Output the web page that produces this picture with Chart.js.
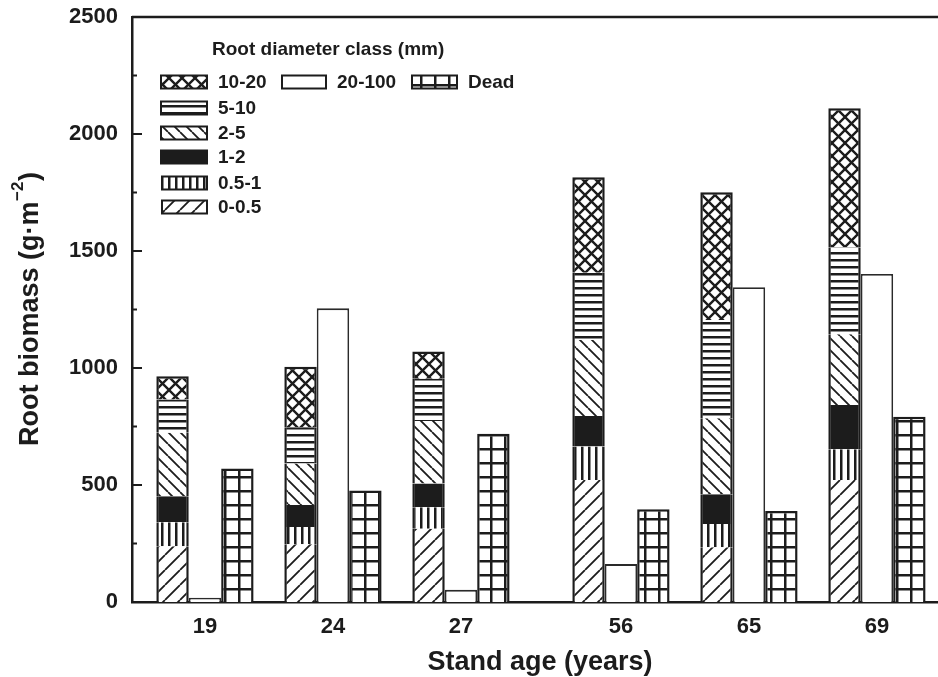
<!DOCTYPE html>
<html>
<head>
<meta charset="utf-8">
<title>Root biomass by stand age</title>
<script src="https://cdn.jsdelivr.net/npm/chart.js@4.4.1/dist/chart.umd.min.js"></script>
<style>
  html, body { margin: 0; padding: 0; background: #fff; }
  canvas { display: block; }
</style>
</head>
<body>
<canvas id="rootChart" width="938" height="677"></canvas>
<script>
// stand ages
var ages = ['19', '24', '27', '56', '65', '69'];
// live root biomass by diameter class (g m-2), stacked bottom to top
var d0_05 = [238, 247, 313, 521, 234, 521];
var d05_1 = [103, 73, 92, 143, 99, 132];
var d1_2 = [111, 94, 101, 131, 128, 189];
var d2_5 = [271, 178, 267, 325, 324, 302];
var d5_10 = [142, 155, 181, 287, 420, 372];
var d10_20 = [100, 258, 116, 408, 546, 594];
// separate bars
var d20_100 = [18, 1255, 52, 162, 1345, 1402];
var dead = [570, 476, 719, 396, 389, 792];
// y axis labels
var yTicks = [0, 500, 1000, 1500, 2000, 2500];

// where each age group sits on the x axis (extra gap between 27 and 56)
var groupX = [1, 2, 3, 4.25, 5.25, 6.25];

var INK = '#1c1c1c';
var FONT = "'Liberation Sans', Arial, Helvetica, sans-serif";

function tile(w, h, draw) {
  var c = document.createElement('canvas');
  c.width = w; c.height = h;
  var g = c.getContext('2d');
  g.fillStyle = '#fff';
  g.fillRect(0, 0, w, h);
  g.strokeStyle = INK;
  g.fillStyle = INK;
  draw(g, w, h);
  return g.createPattern(c, 'repeat');
}
function diag(g, s, up, lw) {
  g.lineWidth = lw;
  g.beginPath();
  for (var k = -1; k <= 1; k++) {
    if (up) { g.moveTo(k * s, s); g.lineTo(k * s + s, 0); }
    else { g.moveTo(k * s, 0); g.lineTo(k * s + s, s); }
  }
  g.stroke();
}

var pFwd = tile(15, 15, function (g) { diag(g, 15, true, 1.8); });
var pVert = tile(7, 8, function (g) { g.fillRect(0, 0, 2.5, 8); });
var pBack = tile(12, 12, function (g) { diag(g, 12, false, 1.8); });
var pHorz = tile(8, 7, function (g) { g.fillRect(0, 0, 8, 2.5); });
var pCross = tile(13, 13, function (g) { diag(g, 13, true, 2.4); diag(g, 13, false, 2.4); });
var pGrid = tile(14, 14, function (g) { g.fillRect(0, 0, 2.5, 14); g.fillRect(0, 0, 14, 2.5); });

function pts(values) {
  return values.map(function (v, i) { return { x: groupX[i], y: v }; });
}
function live(label, values, bg, isTop) {
  return {
    label: label,
    stack: 'live',
    data: pts(values),
    backgroundColor: bg,
    borderColor: INK,
    borderWidth: { left: 2.5, right: 2.5, top: isTop ? 2.5 : 0, bottom: 0 },
    borderSkipped: false
  };
}

var datasets = [
  live('0-0.5', d0_05, pFwd),
  live('0.5-1', d05_1, pVert),
  live('1-2', d1_2, INK),
  live('2-5', d2_5, pBack),
  live('5-10', d5_10, pHorz),
  live('10-20', d10_20, pCross, true),
  { label: '20-100', stack: 'big', data: pts(d20_100), backgroundColor: '#fff',
    borderColor: '#2a2a2a', borderWidth: 1.8 },
  { label: 'Dead', stack: 'dead', data: pts(dead), backgroundColor: pGrid,
    borderColor: INK, borderWidth: 2.5 }
];

// legend layout: dataset index, swatch left, row centre, swatch width
var legendItems = [
  { i: 5, x: 161, y: 82, w: 46 },
  { i: 6, x: 282, y: 82, w: 44 },
  { i: 7, x: 412, y: 82, w: 45 },
  { i: 4, x: 161, y: 108, w: 46 },
  { i: 3, x: 161, y: 133, w: 46 },
  { i: 2, x: 161, y: 157, w: 46 },
  { i: 1, x: 162, y: 183, w: 45 },
  { i: 0, x: 162, y: 207, w: 45 }
];

var decor = {
  id: 'decor',
  afterDraw: function (chart) {
    var ctx = chart.ctx, area = chart.chartArea, ys = chart.scales.y;
    ctx.save();
    ctx.strokeStyle = INK;
    ctx.fillStyle = INK;

    // frame top
    ctx.lineWidth = 2.5;
    ctx.beginPath();
    ctx.moveTo(area.left, area.top);
    ctx.lineTo(area.right, area.top);
    ctx.stroke();

    // inward ticks, minor every 250
    ctx.lineWidth = 2;
    for (var v = 250; v < 2500; v += 250) {
      var py = ys.getPixelForValue(v);
      var len = v % 500 === 0 ? 10 : 5;
      ctx.beginPath();
      ctx.moveTo(area.left, py);
      ctx.lineTo(area.left + len, py);
      ctx.stroke();
    }

    // y title with superscript
    ctx.save();
    ctx.translate(28, (area.top + area.bottom) / 2);
    ctx.rotate(-Math.PI / 2);
    ctx.textBaseline = 'alphabetic';
    ctx.textAlign = 'left';
    var main = 'Root biomass (g\u00b7m', sup = '\u22122', close = ')';
    ctx.font = 'bold 27px ' + FONT;
    var w1 = ctx.measureText(main).width, w3 = ctx.measureText(close).width;
    ctx.font = 'bold 17px ' + FONT;
    var w2 = ctx.measureText(sup).width;
    var x0 = -(w1 + w2 + w3) / 2;
    ctx.font = 'bold 27px ' + FONT;
    ctx.fillText(main, x0, 10);
    ctx.fillText(close, x0 + w1 + w2 + 1, 10);
    ctx.font = 'bold 17px ' + FONT;
    ctx.fillText(sup, x0 + w1 + 0.5, -5);
    ctx.restore();

    // x title
    ctx.font = 'bold 27px ' + FONT;
    ctx.textAlign = 'center';
    ctx.textBaseline = 'alphabetic';
    ctx.fillText('Stand age (years)', 540, 670);

    // legend
    ctx.textAlign = 'left';
    ctx.textBaseline = 'middle';
    ctx.font = 'bold 19px ' + FONT;
    ctx.fillText('Root diameter class (mm)', 212, 50);
    legendItems.forEach(function (it) {
      var ds = chart.data.datasets[it.i];
      ctx.fillStyle = ds.backgroundColor;
      ctx.fillRect(it.x, it.y - 6.5, it.w, 13);
      ctx.lineWidth = 2;
      ctx.strokeStyle = INK;
      ctx.strokeRect(it.x, it.y - 6.5, it.w, 13);
      ctx.fillStyle = INK;
      ctx.fillText(ds.label, it.x + it.w + 11, it.y + 1);
    });
    ctx.restore();
  }
};

new Chart(document.getElementById('rootChart'), {
  type: 'bar',
  data: { datasets: datasets },
  plugins: [decor],
  options: {
    responsive: false,
    animation: false,
    layout: { padding: { top: 17, left: 0, right: 0, bottom: 0 } },
    plugins: { legend: { display: false }, tooltip: { enabled: false } },
    datasets: { bar: { categoryPercentage: 0.76, barPercentage: 1 } },
    scales: {
      x: {
        type: 'linear',
        stacked: true,
        offset: false,
        min: 0.43,
        max: 6.727,
        grid: { display: false, drawTicks: false, offset: false },
        border: { display: true, color: INK, width: 2.5 },
        afterBuildTicks: function (s) { s.ticks = groupX.map(function (v) { return { value: v }; }); },
        afterFit: function (s) { s.height = 75; s.paddingLeft = 0; s.paddingRight = 0; },
        ticks: {
          autoSkip: false,
          maxRotation: 0,
          padding: 12,
          color: INK,
          font: { family: FONT, size: 22, weight: 'bold' },
          callback: function (v, i) { return ages[i]; }
        }
      },
      y: {
        stacked: true,
        min: 0,
        max: 2500,
        grid: { display: false, drawTicks: false },
        border: { display: true, color: INK, width: 2.5 },
        afterBuildTicks: function (s) { s.ticks = yTicks.map(function (v) { return { value: v }; }); },
        afterFit: function (s) { s.width = 132; s.paddingTop = 12; s.paddingBottom = 12; },
        ticks: {
          padding: 14,
          color: INK,
          font: { family: FONT, size: 22, weight: 'bold' },
          callback: function (v) { return String(v); }
        }
      }
    }
  }
});
</script>
</body>
</html>
